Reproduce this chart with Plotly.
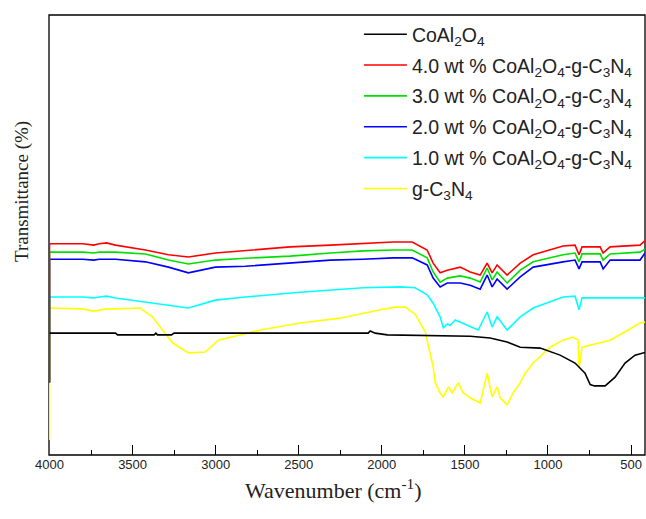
import plotly.graph_objects as go

# ---------------- data (wavenumber in cm^-1, transmittance arbitrary units) ----------------
wn_black = [4000, 3603, 3590, 3370, 3360, 3350, 3266, 3250, 2082, 2070, 2040, 1967, 1468, 1348,
            1246, 1167, 1047, 927, 837, 777, 746, 720, 686, 656, 596, 536, 476, 416]
t_black = [27.7, 27.7, 27.3, 27.3, 27.7, 27.3, 27.3, 27.7, 27.7, 28.2, 27.7, 27.3, 27.0, 26.6,
           25.7, 24.5, 24.3, 22.7, 20.9, 18.6, 16.0, 15.7, 15.7, 15.7, 17.7, 20.9, 22.7, 23.3]

wn_comp = [4000, 4000, 3800, 3735, 3700, 3657, 3603, 3423, 3284, 3164, 3002, 2821, 2551, 2310,
           2112, 1931, 1817, 1727, 1691, 1649, 1606, 1528, 1468, 1408, 1366, 1336, 1306, 1246,
           1167, 1089, 909, 837, 813, 795, 686, 668, 626, 446, 416]
t_4wt = [16.6, 48.0, 48.0, 47.7, 48.0, 48.2, 47.7, 46.6, 45.5, 45.0, 45.9, 46.4, 47.3, 47.7,
         48.0, 48.4, 48.4, 46.6, 43.6, 41.4, 42.0, 42.7, 41.6, 40.9, 43.6, 41.4, 43.2, 40.9,
         43.6, 45.5, 47.5, 47.7, 45.5, 47.3, 47.3, 45.9, 47.3, 47.7, 48.7]
t_3wt = [16.6, 46.1, 46.1, 45.9, 46.1, 46.1, 46.1, 45.7, 44.3, 43.4, 44.3, 44.7, 45.2, 45.9,
         46.4, 46.6, 46.6, 44.8, 41.6, 39.3, 40.2, 40.7, 40.2, 39.3, 42.5, 39.8, 41.6, 39.1,
         42.0, 43.9, 45.5, 45.9, 43.9, 45.7, 45.7, 44.3, 45.7, 46.1, 46.8]
t_2wt = [16.4, 44.5, 44.5, 44.3, 44.5, 44.5, 44.5, 43.9, 42.7, 41.4, 42.7, 42.9, 43.6, 44.3,
         44.5, 44.8, 44.8, 43.2, 40.2, 38.2, 39.1, 39.1, 38.6, 37.7, 40.9, 38.2, 40.0, 37.7,
         40.5, 42.7, 43.9, 44.3, 42.3, 43.9, 43.9, 42.3, 44.3, 44.3, 45.9]

wn_1wt = [4000, 4000, 3800, 3735, 3700, 3657, 3603, 3423, 3284, 3164, 3002, 2821, 2490, 2112,
          1889, 1799, 1727, 1691, 1649, 1630, 1606, 1588, 1558, 1528, 1468, 1420, 1366, 1336,
          1306, 1246, 1167, 1089, 909, 837, 813, 795, 446, 416]
t_1wt = [16.6, 35.9, 35.9, 35.7, 35.9, 36.1, 35.7, 34.8, 34.1, 33.4, 35.2, 35.9, 37.0, 38.0,
         38.2, 38.0, 36.4, 34.5, 31.4, 28.9, 29.8, 29.5, 30.7, 30.2, 29.1, 28.4, 32.5, 29.1,
         31.4, 28.4, 31.4, 33.4, 35.9, 36.1, 33.0, 35.7, 35.7, 35.7]

wn_gcn = [4000, 4000, 3800, 3735, 3657, 3603, 3453, 3441, 3381, 3320, 3260, 3164, 3062, 2984,
          2851, 2731, 2490, 2250, 2009, 1919, 1859, 1799, 1739, 1709, 1691, 1679, 1649, 1630,
          1600, 1576, 1540, 1510, 1468, 1408, 1366, 1336, 1306, 1288, 1246, 1210, 1167, 1137,
          1089, 987, 909, 867, 849, 819, 813, 795, 746, 626, 536, 446, 416]
t_gcn = [3.4, 33.4, 33.2, 32.7, 33.2, 33.2, 33.4, 33.0, 31.4, 28.4, 25.5, 23.2, 23.4, 26.1,
         27.3, 28.4, 30.0, 31.1, 33.0, 33.6, 33.6, 32.0, 28.0, 23.0, 20.0, 16.5, 14.1, 13.2,
         15.5, 14.1, 16.4, 14.1, 13.0, 11.8, 18.6, 13.2, 15.5, 13.0, 11.4, 14.1, 16.4, 18.6,
         20.9, 24.5, 26.1, 26.6, 26.8, 26.1, 19.8, 24.5, 25.0, 26.1, 28.0, 30.0, 30.2]

names = ["CoAl<sub>2</sub>O<sub>4</sub>",
         "4.0 wt % CoAl<sub>2</sub>O<sub>4</sub>-g-C<sub>3</sub>N<sub>4</sub>",
         "3.0 wt % CoAl<sub>2</sub>O<sub>4</sub>-g-C<sub>3</sub>N<sub>4</sub>",
         "2.0 wt % CoAl<sub>2</sub>O<sub>4</sub>-g-C<sub>3</sub>N<sub>4</sub>",
         "1.0 wt % CoAl<sub>2</sub>O<sub>4</sub>-g-C<sub>3</sub>N<sub>4</sub>",
         "g-C<sub>3</sub>N<sub>4</sub>"]
colors = ["#000000", "#ff0000", "#00e000", "#0000ff", "#00ffff", "#ffff00"]
x_ticks = [4000, 3500, 3000, 2500, 2000, 1500, 1000, 500]
x_minor = [3750, 3250, 2750, 2250, 1750, 1250, 750]

series = [(wn_black, t_black), (wn_comp, t_4wt), (wn_comp, t_3wt), (wn_comp, t_2wt),
          (wn_1wt, t_1wt), (wn_gcn, t_gcn)]
# drawing order: yellow first ... red, black last; legend order kept via legendrank
draw_order = [5, 4, 3, 2, 1, 0]

fig = go.Figure()
for i in draw_order:
    xs, ys = series[i]
    fig.add_trace(go.Scatter(x=xs, y=ys, mode="lines", name=names[i],
                             line=dict(color=colors[i], width=1.6),
                             legendgroup="g%d" % i, legendrank=i + 1))

serif = "Liberation Serif, Times New Roman, serif"
sans = "Liberation Sans, Arial, sans-serif"

fig.update_layout(
    width=646, height=519,
    margin=dict(l=49, r=1, t=15, b=64),
    paper_bgcolor="white", plot_bgcolor="white",
    showlegend=True,
    legend=dict(x=0.520, y=1.0, xanchor="left", yanchor="top",
                font=dict(family=sans, size=19.5, color="#222"),
                bgcolor="rgba(0,0,0,0)", tracegroupgap=2.5, itemwidth=43,
                traceorder="grouped"),
    xaxis=dict(range=[4003, 416], autorange=False, tickmode="array", tickvals=x_ticks,
               ticks="inside", ticklen=10, tickwidth=1, tickcolor="black",
               showline=False, showgrid=False, zeroline=False,
               minor=dict(tickvals=x_minor, ticks="inside",
                          ticklen=5, tickcolor="black", showgrid=False),
               tickfont=dict(family=sans, size=13, color="#222")),
    yaxis=dict(range=[0, 100], autorange=False, showticklabels=False, ticks="",
               showline=False, showgrid=False, zeroline=False),
    shapes=[dict(type="rect", xref="paper", yref="paper", x0=0, y0=0, x1=1, y1=1,
                 line=dict(color="black", width=1.3), layer="below")],
    annotations=[
        dict(text="Transmittance (%)", textangle=-90, xref="paper", yref="paper",
             x=-0.045, y=0.598, xanchor="center", yanchor="middle", showarrow=False,
             font=dict(family=serif, size=19, color="#222")),
        dict(text="Wavenumber (cm<sup>-1</sup>)", xref="paper", yref="paper",
             x=0.478, y=-0.077, xanchor="center", yanchor="middle", showarrow=False,
             font=dict(family=serif, size=22, color="#222")),
    ],
)

fig.write_html("out.html", config={"displayModeBar": False},
               post_script="document.body.style.margin='0';")
